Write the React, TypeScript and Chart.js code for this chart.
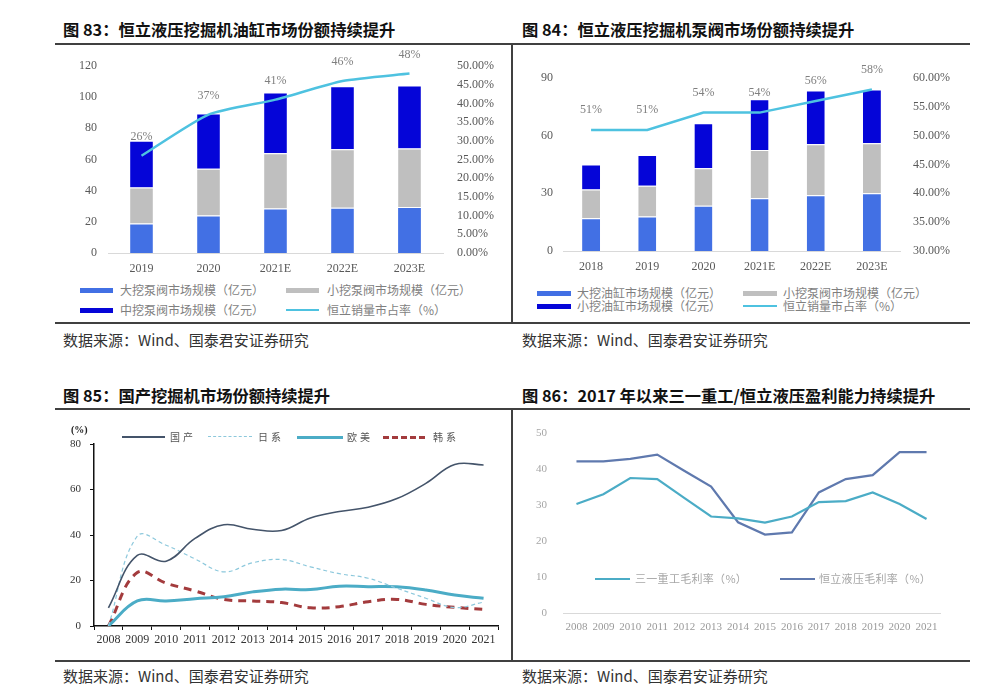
import React, { useEffect, useRef } from "react";
import { Chart, registerables } from "chart.js";

Chart.register(...registerables);

// ---------- DATA ----------
const c1Years = ["2019", "2020", "2021E", "2022E", "2023E"];
const c1Large = [19, 24, 28.5, 29, 29.5];
const c1Small = [23, 30, 35.5, 37.5, 37.5];
const c1Mid = [30, 35.5, 39, 40.5, 40.5];
const c1Share = [26, 37, 41, 46, 48];

const c2Years = ["2018", "2019", "2020", "2021E", "2022E", "2023E"];
const c2LargeCyl = [17, 18, 23.5, 27.5, 29, 30];
const c2SmallValve = [15, 16, 19.5, 25, 26.5, 26];
const c2SmallCyl = [13, 16, 23.5, 26.5, 28, 28];
const c2Share = [51, 51, 54, 54, 56, 58];

const c3Years = ["2008", "2009", "2010", "2011", "2012", "2013", "2014", "2015", "2016", "2017", "2018", "2019", "2020", "2021"];
const c3Domestic = [8, 31, 28.5, 38.5, 44.5, 42.5, 42, 47.5, 50.3, 52.2, 56, 62.7, 71, 70.8];
const c3Japan = [0, 39.5, 35.5, 29.5, 23.8, 27.8, 29.2, 26, 23, 21, 16.6, 12.2, 8.1, 10.5];
const c3EuroUS = [0, 11, 11, 12, 12.9, 15, 16.2, 16, 17.5, 17.3, 17.2, 15.8, 13.6, 12.2];
const c3Korea = [0, 23.5, 18.8, 15.4, 11.7, 11, 10.3, 8, 8.5, 10.7, 11.7, 9.5, 8.2, 7.3];

const c4Years = ["2008", "2009", "2010", "2011", "2012", "2013", "2014", "2015", "2016", "2017", "2018", "2019", "2020", "2021"];
const c4Sany = [30.3, 33, 37.5, 37.2, 32, 26.8, 26.3, 25.1, 26.8, 30.8, 31.1, 33.5, 30.3, 26.1];
const c4Hengli = [42.1, 42.1, 42.8, 44, 39.5, 35.1, 25.2, 21.8, 22.4, 33.5, 37.2, 38.3, 44.7, 44.7];

// ---------- STYLE ----------
const SERIF = '"Liberation Serif", "DejaVu Serif", serif';
const CJK = '"Noto Sans CJK SC", "Noto Sans", sans-serif';
const BLUE = "#4270E4";
const GRAY = "#BFBFBF";
const DARK = "#0505D8";
const CYAN = "#4EC2E0";
const SANY = "#4BACC6";
const HENGLI = "#5F79AE";

const shareLabels = (offset: number) => ({
  id: "shareLabels",
  beforeDatasetsDraw(chart: any) {
    const ctx = chart.ctx;
    const idx = chart.data.datasets.length - 1;
    const meta = chart.getDatasetMeta(idx);
    const vals = chart.data.datasets[idx].data;
    ctx.save();
    ctx.font = `12px ${SERIF}`;
    ctx.fillStyle = "#7f7f7f";
    ctx.textAlign = "center";
    ctx.textBaseline = "middle";
    meta.data.forEach((pt: any, i: number) => {
      ctx.fillText(`${vals[i]}%`, pt.x, pt.y - offset);
    });
    ctx.restore();
  },
});

// fix an axis' width and stop its tick padding from pushing the plot area
const vFit = (w: number) => (s: any) => {
  s.width = w;
  s.paddingTop = 0;
  s.paddingBottom = 0;
};
const hFit = (h: number) => (s: any) => {
  s.height = h;
};

function barCfg(
  labels: string[],
  series: { label: string; data: number[]; color: string }[],
  share: number[],
  shareLabel: string,
  o: any
) {
  const datasets: any[] = series.map((s) => ({
    type: "bar",
    label: s.label,
    data: s.data,
    backgroundColor: s.color,
    borderColor: "rgba(255,255,255,0.85)",
    borderWidth: { top: 1 },
    borderSkipped: "start",
    stack: "s",
    yAxisID: "y",
    order: 1,
    categoryPercentage: o.catPct,
    barPercentage: 1,
  }));
  datasets.push({
    type: "line",
    label: shareLabel,
    data: share,
    borderColor: CYAN,
    borderWidth: 2.5,
    pointRadius: 0,
    tension: o.tension,
    yAxisID: "y1",
    order: 0,
  });
  const tickFont = { family: SERIF, size: 12 };
  return {
    type: "bar",
    data: { labels, datasets },
    options: {
      responsive: false,
      animation: false,
      layout: { padding: { top: o.top, left: 0, right: 0, bottom: 0 } },
      plugins: { legend: { display: false }, tooltip: { enabled: false } },
      scales: {
        x: {
          stacked: true,
          grid: { display: false, drawTicks: false },
          border: { display: true, color: "#d9d9d9", width: 1 },
          ticks: { color: "#595959", font: tickFont, padding: 9, maxRotation: 0, autoSkip: false },
          afterFit: hFit(o.xh),
        },
        y: {
          stacked: true,
          min: 0,
          max: o.ymax,
          grid: { display: false, drawTicks: false },
          border: { display: false },
          ticks: { stepSize: o.ystep, color: "#595959", font: tickFont, padding: o.lpad },
          afterFit: vFit(o.lw),
        },
        y1: {
          position: "right",
          min: o.rmin,
          max: o.rmax,
          grid: { display: false, drawTicks: false },
          border: { display: false },
          ticks: {
            stepSize: 5,
            color: "#595959",
            font: tickFont,
            padding: o.rpad,
            callback: (v: any) => Number(v).toFixed(2) + "%",
          },
          afterFit: vFit(o.rw),
        },
      },
    },
    plugins: [shareLabels(o.labelOffset)],
  };
}

const chart1 = () =>
  barCfg(
    c1Years,
    [
      { label: "大挖泵阀市场规模（亿元）", data: c1Large, color: BLUE },
      { label: "小挖泵阀市场规模（亿元）", data: c1Small, color: GRAY },
      { label: "中挖泵阀市场规模（亿元）", data: c1Mid, color: DARK },
    ],
    c1Share,
    "恒立销量市占率（%）",
    { catPct: 0.34, tension: 0.2, top: 16, xh: 22, ymax: 120, ystep: 20, lpad: 11, lw: 53, rmin: 0, rmax: 50, rpad: 14, rw: 57, labelOffset: 19 }
  );

const chart2 = () =>
  barCfg(
    c2Years,
    [
      { label: "大挖油缸市场规模（亿元）", data: c2LargeCyl, color: BLUE },
      { label: "小挖泵阀市场规模（亿元）", data: c2SmallValve, color: GRAY },
      { label: "小挖油缸市场规模（亿元）", data: c2SmallCyl, color: DARK },
    ],
    c2Share,
    "恒立销量市占率（%）",
    { catPct: 0.32, tension: 0, top: 23, xh: 29, ymax: 90, ystep: 30, lpad: 10, lw: 50, rmin: 30, rmax: 60, rpad: 13, rw: 70, labelOffset: 20 }
  );

const chart3 = () => ({
  type: "line",
  data: {
    labels: c3Years,
    datasets: [
      { label: "国产", data: c3Domestic, borderColor: "#44546A", borderWidth: 1.6, pointRadius: 0, tension: 0.4 },
      { label: "日系", data: c3Japan, borderColor: "#8CC8DC", borderWidth: 1.2, borderDash: [4, 3], pointRadius: 0, tension: 0.4 },
      { label: "欧美", data: c3EuroUS, borderColor: "#4BACC6", borderWidth: 3, pointRadius: 0, tension: 0.4 },
      { label: "韩系", data: c3Korea, borderColor: "#A33B3D", borderWidth: 3, borderDash: [8, 6], pointRadius: 0, tension: 0.4 },
    ],
  },
  options: {
    responsive: false,
    animation: false,
    layout: { padding: { top: 29, left: 0, right: 4, bottom: 0 } },
    plugins: { legend: { display: false }, tooltip: { enabled: false } },
    scales: {
      x: {
        offset: true,
        grid: { display: true, offset: true, drawOnChartArea: false, drawTicks: true, tickLength: 4, color: "#111" },
        border: { display: true, color: "#111", width: 1.5 },
        ticks: { color: "#333", font: { family: SERIF, size: 12 }, padding: 3, maxRotation: 0, autoSkip: false },
        afterFit: hFit(34),
      },
      y: {
        min: 0,
        max: 80,
        grid: { display: true, drawOnChartArea: false, drawTicks: true, tickLength: 4, color: "#111" },
        border: { display: true, color: "#111", width: 1.5 },
        ticks: { stepSize: 20, color: "#333", font: { family: SERIF, size: 11 }, padding: 9 },
        afterFit: vFit(39),
      },
    },
  },
});

const chart4 = () => ({
  type: "line",
  data: {
    labels: c4Years,
    datasets: [
      { label: "三一重工毛利率（%）", data: c4Sany, borderColor: SANY, borderWidth: 2.2, pointRadius: 0, tension: 0 },
      { label: "恒立液压毛利率（%）", data: c4Hengli, borderColor: HENGLI, borderWidth: 2.2, pointRadius: 0, tension: 0 },
    ],
  },
  options: {
    responsive: false,
    animation: false,
    layout: { padding: { top: 18, left: 0, right: 30, bottom: 0 } },
    plugins: { legend: { display: false }, tooltip: { enabled: false } },
    scales: {
      x: {
        offset: true,
        grid: { display: false, drawTicks: false },
        border: { display: true, color: "#d9d9d9", width: 1 },
        ticks: { color: "#9a9a9a", font: { family: SERIF, size: 11 }, padding: 8, maxRotation: 0, autoSkip: false },
        afterFit: hFit(47),
      },
      y: {
        min: 0,
        max: 50,
        grid: { display: false, drawTicks: false },
        border: { display: false },
        ticks: { stepSize: 10, color: "#a6a6a6", font: { family: SERIF, size: 11 }, padding: 16 },
        afterFit: vFit(50),
      },
    },
  },
});

// ---------- COMPONENTS ----------
function ChartBox({ left, top, width, height, build }: any) {
  const ref = useRef<HTMLCanvasElement>(null);
  useEffect(() => {
    const chart = new Chart(ref.current as HTMLCanvasElement, build() as any);
    return () => chart.destroy();
  }, []);
  return (
    <canvas
      ref={ref}
      width={width}
      height={height}
      style={{ position: "absolute", left, top, width, height }}
    />
  );
}

function Txt({ x, y, size, children, color = "#222", bold = false, family = CJK, ls = 0 }: any) {
  return (
    <div
      style={{
        position: "absolute",
        left: x,
        top: y - size * 0.7,
        fontSize: size,
        lineHeight: `${size * 1.4}px`,
        color,
        fontWeight: bold ? 700 : 400,
        fontFamily: family,
        whiteSpace: "nowrap",
        letterSpacing: ls,
      }}
    >
      {children}
    </div>
  );
}

function HLine({ x1, x2, y, w = 2, color = "#404040" }: any) {
  return <div style={{ position: "absolute", left: x1, top: y - w / 2, width: x2 - x1, height: w, background: color }} />;
}
function VLine({ x, y1, y2, w = 2, color = "#404040" }: any) {
  return <div style={{ position: "absolute", left: x - w / 2, top: y1, width: w, height: y2 - y1, background: color }} />;
}

function Swatch({ x, y, w, h, color, dash }: any) {
  if (dash) {
    return (
      <div
        style={{
          position: "absolute",
          left: x,
          top: y - h / 2,
          width: w,
          height: 0,
          borderTop: `${h}px dashed ${color}`,
        }}
      />
    );
  }
  return <div style={{ position: "absolute", left: x, top: y - h / 2, width: w, height: h, background: color }} />;
}

const SOURCE = "数据来源：Wind、国泰君安证券研究";

export default function App() {
  const lg = "#7f7f7f";
  return (
    <div
      style={{
        position: "absolute",
        left: 0,
        top: 0,
        width: 1000,
        height: 696,
        background: "#fff",
        overflow: "hidden",
      }}
    >
      {/* Titles */}
      <Txt x={63} y={29} size={16.3} bold color="#111">图 83：恒立液压挖掘机油缸市场份额持续提升</Txt>
      <Txt x={522} y={29} size={16.3} bold color="#111">图 84：恒立液压挖掘机泵阀市场份额持续提升</Txt>
      <Txt x={63} y={395} size={16.3} bold color="#111">图 85：国产挖掘机市场份额持续提升</Txt>
      <Txt x={522} y={395} size={16.3} bold color="#111">图 86：2017 年以来三一重工/恒立液压盈利能力持续提升</Txt>

      {/* Frame lines */}
      <HLine x1={55} x2={970} y={43.5} />
      <VLine x={511.5} y1={43} y2={323} />
      <HLine x1={55} x2={970} y={322.5} />
      <HLine x1={55} x2={970} y={408.5} />
      <VLine x={511.5} y1={408} y2={661} />
      <HLine x1={55} x2={970} y={661} />

      {/* Sources */}
      <Txt x={63} y={339} size={15} color="#333">{SOURCE}</Txt>
      <Txt x={522} y={339} size={15} color="#333">{SOURCE}</Txt>
      <Txt x={63} y={675} size={15} color="#333">{SOURCE}</Txt>
      <Txt x={522} y={675} size={15} color="#333">{SOURCE}</Txt>

      {/* Charts */}
      <ChartBox left={55} top={50} width={445} height={225} build={chart1} />
      <ChartBox left={513} top={55} width={457} height={225} build={chart2} />
      <ChartBox left={55} top={415} width={447} height={245} build={chart3} />
      <ChartBox left={513} top={415} width={457} height={245} build={chart4} />

      {/* Legend chart 1 */}
      <Swatch x={80} y={290} w={33} h={5} color={BLUE} />
      <Txt x={120} y={290} size={12} color={lg}>大挖泵阀市场规模（亿元）</Txt>
      <Swatch x={286} y={290} w={33} h={5} color={GRAY} />
      <Txt x={327} y={290} size={12} color={lg}>小挖泵阀市场规模（亿元）</Txt>
      <Swatch x={80} y={310} w={33} h={5} color={DARK} />
      <Txt x={120} y={310} size={12} color={lg}>中挖泵阀市场规模（亿元）</Txt>
      <Swatch x={286} y={310} w={33} h={2} color={CYAN} />
      <Txt x={327} y={310} size={12} color={lg}>恒立销量市占率（%）</Txt>

      {/* Legend chart 2 */}
      <Swatch x={537} y={293} w={34} h={5} color={BLUE} />
      <Txt x={577} y={293} size={12} color={lg}>大挖油缸市场规模（亿元）</Txt>
      <Swatch x={743} y={293} w={34} h={5} color={GRAY} />
      <Txt x={783} y={293} size={12} color={lg}>小挖泵阀市场规模（亿元）</Txt>
      <Swatch x={537} y={306} w={34} h={5} color={DARK} />
      <Txt x={577} y={306} size={12} color={lg}>小挖油缸市场规模（亿元）</Txt>
      <Swatch x={743} y={306} w={34} h={2} color={CYAN} />
      <Txt x={783} y={306} size={12} color={lg}>恒立销量市占率（%）</Txt>

      {/* Chart 3 unit + legend */}
      <Txt x={71} y={430} size={10} bold color="#222" family={SERIF}>(%)</Txt>
      <Swatch x={122} y={437} w={43} h={1.6} color="#44546A" />
      <Txt x={170} y={437} size={10} color="#555" ls={3}>国产</Txt>
      <Swatch x={208} y={437} w={44} h={1.2} color="#8CC8DC" dash />
      <Txt x={258} y={437} size={10} color="#555" ls={3}>日系</Txt>
      <Swatch x={297} y={437} w={46} h={3} color="#4BACC6" />
      <Txt x={347} y={437} size={10} color="#555" ls={3}>欧美</Txt>
      <Swatch x={383} y={437} w={42} h={3} color="#A33B3D" dash />
      <Txt x={433} y={437} size={10} color="#555" ls={3}>韩系</Txt>

      {/* Chart 4 legend */}
      <Swatch x={595} y={579} w={35} h={2.5} color={SANY} />
      <Txt x={635} y={579} size={11} color="#a6a6a6" ls={0.3}>三一重工毛利率（%）</Txt>
      <Swatch x={780} y={579} w={35} h={2.5} color={HENGLI} />
      <Txt x={819} y={579} size={11} color="#a6a6a6" ls={0.3}>恒立液压毛利率（%）</Txt>
    </div>
  );
}
